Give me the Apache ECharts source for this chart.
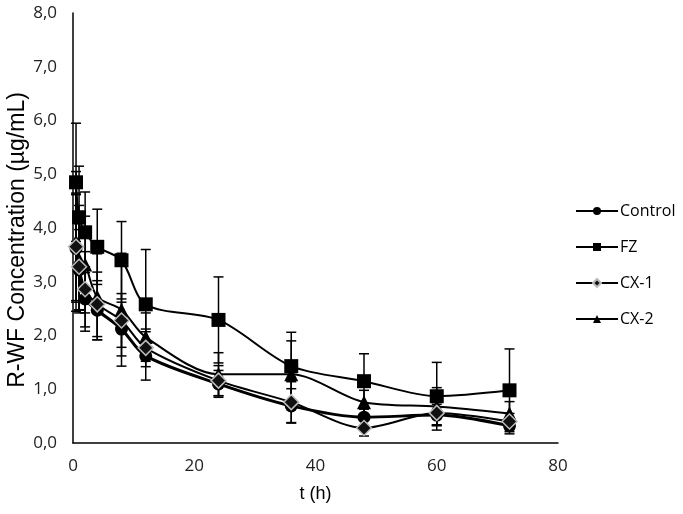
<!DOCTYPE html>
<html>
<head>
<meta charset="utf-8">
<script src="https://cdn.jsdelivr.net/npm/echarts@6/dist/echarts.min.js"></script>
<style>html,body{margin:0;padding:0;background:#fff}#c{width:683px;height:514px}</style>
</head>
<body>
<div id="c"></div>
<script>
var times = [0.5, 1, 2, 4, 8, 12, 24, 36, 48, 60, 72];
var controlMean = [3.62, 3.22, 2.68, 2.47, 2.12, 1.62, 1.10, 0.69, 0.48, 0.52, 0.32];
var controlSD   = [1.00, 0.75, 0.60, 0.55, 0.50, 0.45, 0.25, 0.32, 0.15, 0.20, 0.15];
var fzMean = [4.85, 4.20, 3.92, 3.65, 3.40, 2.58, 2.29, 1.43, 1.15, 0.87, 0.98];
var fzSD   = [1.10, 0.95, 0.75, 0.70, 0.72, 1.02, 0.80, 0.63, 0.51, 0.63, 0.77];
var cx1Mean = [3.65, 3.28, 2.86, 2.58, 2.28, 1.77, 1.16, 0.76, 0.28, 0.56, 0.40];
var cx1SD   = [1.00, 0.80, 0.70, 0.60, 0.50, 0.35, 0.28, 0.38, 0.15, 0.22, 0.15];
var cx2Mean = [3.75, 3.42, 3.32, 2.72, 2.48, 1.97, 1.28, 1.28, 0.76, 0.68, 0.55];
var cx2SD   = [1.30, 1.00, 0.90, 0.80, 1.05, 0.45, 0.40, 0.62, 0.22, 0.35, 0.22];
var seriesNames = ['Control', 'FZ', 'CX-1', 'CX-2'];
var xTicks = [0, 20, 40, 60, 80];
var yTicks = [0, 1, 2, 3, 4, 5, 6, 7, 8];

function pts(m){ return times.map(function(t,i){ return [t, m[i]]; }); }
function errs(m, s){ return times.map(function(t,i){ return [t, m[i]-s[i], m[i]+s[i]]; }); }

function errSeries(name, m, s){
  return {
    type: 'custom', name: name + ' err', z: 1, silent: true,
    data: errs(m, s),
    renderItem: function(params, api){
      var x = api.value(0), lo = api.value(1), hi = api.value(2);
      var p1 = api.coord([x, hi]), p2 = api.coord([x, lo]);
      var w = 5;
      var st = {stroke: '#000', lineWidth: 1.5};
      return {type: 'group', children: [
        {type: 'line', shape: {x1: p1[0], y1: p1[1], x2: p2[0], y2: p2[1]}, style: st},
        {type: 'line', shape: {x1: p1[0]-w, y1: p1[1], x2: p1[0]+w, y2: p1[1]}, style: st},
        {type: 'line', shape: {x1: p2[0]-w, y1: p2[1], x2: p2[0]+w, y2: p2[1]}, style: st}
      ]};
    }
  };
}

var font = "'Open Sans', sans-serif";
var chart = echarts.init(document.getElementById('c'));
chart.setOption({
  animation: false,
  backgroundColor: '#fff',
  grid: {left: 73, top: 13, width: 485, height: 430, containLabel: false, outerBoundsMode: 'none'},
  legend: {
    data: seriesNames, orient: 'vertical', left: 570, top: 195, itemGap: 14,
    itemWidth: 42, itemHeight: 10,
    textStyle: {fontFamily: font, fontSize: 16, lineHeight: 22, color: '#000', padding: [0,0,0,-3]}
  },
  xAxis: {
    type: 'value', min: 0, max: 80, interval: 20,
    name: 't (h)', nameLocation: 'middle', nameGap: 42, nameMoveOverlap: false,
    nameTextStyle: {fontFamily: 'Liberation Sans, Arial, sans-serif', fontSize: 18, color: '#000'},
    axisLine: {lineStyle: {color: '#000', width: 1.5}},
    axisTick: {show: false}, splitLine: {show: false},
    axisLabel: {fontFamily: font, fontSize: 17, color: '#222', margin: 15}
  },
  yAxis: {
    type: 'value', min: 0, max: 8, interval: 1,
    name: 'R-WF Concentration (µg/mL)', nameLocation: 'middle', nameGap: 44, nameMoveOverlap: false,
    nameTextStyle: {fontFamily: 'Liberation Sans, Arial, sans-serif', fontSize: 23, color: '#000', padding: [0, 24, 0, 0]},
    axisLine: {show: true, lineStyle: {color: '#000', width: 1.5}},
    axisTick: {show: false}, splitLine: {show: false},
    axisLabel: {fontFamily: font, fontSize: 17, color: '#222', margin: 16,
      formatter: function(v){ return v.toFixed(1).replace('.', ','); }}
  },
  series: [
    errSeries('Control', controlMean, controlSD),
    errSeries('FZ', fzMean, fzSD),
    errSeries('CX-1', cx1Mean, cx1SD),
    errSeries('CX-2', cx2Mean, cx2SD),
    {name: 'Control', type: 'line', data: pts(controlMean), smooth: 0.3, z: 3,
      symbol: 'circle', symbolSize: 13,
      lineStyle: {color: '#000', width: 3}, itemStyle: {color: '#000'}},
    {name: 'FZ', type: 'line', data: pts(fzMean), smooth: 0.3, z: 3,
      symbol: 'rect', symbolSize: 14,
      lineStyle: {color: '#000', width: 2}, itemStyle: {color: '#000'}},
    {name: 'CX-1', type: 'line', data: pts(cx1Mean), smooth: 0.3, z: 4,
      symbol: 'diamond', symbolSize: 15,
      lineStyle: {color: '#000', width: 2}, itemStyle: {color: '#111', borderColor: '#bbb', borderWidth: 1.5}},
    {name: 'CX-2', type: 'line', data: pts(cx2Mean), smooth: 0.3, z: 3,
      symbol: 'triangle', symbolSize: 14,
      lineStyle: {color: '#000', width: 2}, itemStyle: {color: '#000'}}
  ]
});
</script>
</body>
</html>
